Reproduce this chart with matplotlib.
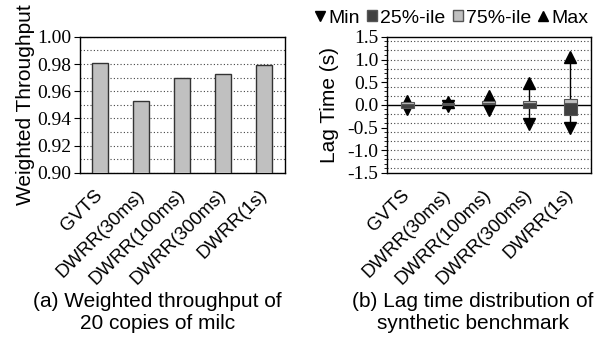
import matplotlib.pyplot as plt
import numpy as np
from matplotlib.lines import Line2D
from matplotlib.patches import Patch
from matplotlib.ticker import MultipleLocator

categories = ['GVTS', 'DWRR(30ms)', 'DWRR(100ms)', 'DWRR(300ms)', 'DWRR(1s)']
throughput = [0.981, 0.953, 0.970, 0.973, 0.979]

lag_min = [-0.09, -0.03, -0.12, -0.43, -0.52]
lag_p25 = [-0.07, 0.00, 0.01, -0.07, -0.22]
lag_med = [0.01, 0.02, 0.04, 0.03, 0.05]
lag_p75 = [0.07, 0.03, 0.08, 0.09, 0.12]
lag_max = [0.09, 0.06, 0.20, 0.48, 1.05]

tp_ticks = [0.90, 0.92, 0.94, 0.96, 0.98, 1.00]
lag_ticks = [-1.5, -1.0, -0.5, 0.0, 0.5, 1.0, 1.5]

plt.rcParams['font.family'] = ['Liberation Sans', 'DejaVu Sans']
serif = 'Liberation Serif'
dots = (0, (1, 2))

fig = plt.figure(figsize=(5.96, 3.41), dpi=100)
ax1 = fig.add_axes([0.134, 0.493, 0.344, 0.399])
ax2 = fig.add_axes([0.649, 0.493, 0.342, 0.399])
x = np.arange(len(categories))

# (a) weighted throughput
ax1.bar(x, throughput, width=0.39, color='#c0c0c0', edgecolor='#333333',
        linewidth=1.0, zorder=3)
ax1.set_ylim(0.90, 1.00)
ax1.set_yticks(tp_ticks, labels=['%.2f' % t for t in tp_ticks],
               fontfamily=serif, fontsize=14)
ax1.yaxis.set_minor_locator(MultipleLocator(0.01))
ax1.grid(axis='y', which='both', linestyle=dots, color='#444444',
         linewidth=0.8, zorder=0)
ax1.tick_params(axis='y', which='major', direction='out', length=4, pad=2)
ax1.tick_params(axis='y', which='minor', length=0)
ax1.set_ylabel('Weighted Throughput', fontsize=15, labelpad=2)

# (b) lag time distribution
ax2.axhline(0, color='black', linewidth=1.0, zorder=2)
ax2.vlines(x, lag_min, lag_max, color='black', linewidth=1.0, zorder=3)
ax2.plot(x, lag_min, linestyle='none', marker='v', color='black',
         markersize=8.5, zorder=4)
ax2.plot(x, lag_max, linestyle='none', marker='^', color='black',
         markersize=8.5, zorder=4)
ax2.bar(x, np.array(lag_med) - np.array(lag_p25), bottom=lag_p25, width=0.31,
        color='#404040', edgecolor='#555555', linewidth=0.8, zorder=5)
ax2.bar(x, np.array(lag_p75) - np.array(lag_med), bottom=lag_med, width=0.31,
        color='#c0c0c0', edgecolor='#555555', linewidth=0.8, zorder=5)
ax2.set_ylim(-1.5, 1.5)
ax2.set_yticks(lag_ticks, labels=['%.1f' % t for t in lag_ticks],
               fontfamily=serif, fontsize=14)
ax2.yaxis.set_minor_locator(MultipleLocator(0.1))
for g in np.arange(-1.4, 1.41, 0.2):
    if abs(g) > 1e-6:
        ax2.axhline(g, linestyle=dots, color='#444444', linewidth=0.8, zorder=0)
ax2.tick_params(axis='y', which='major', direction='out', length=4, pad=2)
ax2.tick_params(axis='y', which='minor', direction='out', length=2)
ax2.set_ylabel('Lag Time (s)', fontsize=15, labelpad=6)

for ax in (ax1, ax2):
    ax.set_xlim(-0.5, len(categories) - 0.5)
    ax.set_xticks(x)
    ax.set_xticklabels(categories, rotation=45, ha='right', va='center',
                       rotation_mode='anchor', fontsize=13.5)
    ax.tick_params(axis='x', length=0, pad=14)
    for sp in ax.spines.values():
        sp.set_linewidth(1.0)

handles = [
    Line2D([], [], linestyle='none', marker='v', color='black', markersize=6.5),
    Patch(facecolor='#404040', edgecolor='#555555'),
    Patch(facecolor='#c0c0c0', edgecolor='#555555'),
    Line2D([], [], linestyle='none', marker='^', color='black', markersize=6.5),
]
fig.legend(handles, ['Min', '25%-ile', '75%-ile', 'Max'], ncol=4,
           loc='center', bbox_to_anchor=(0.758, 0.947), frameon=False,
           fontsize=14, handlelength=0.5, handleheight=0.5,
           handletextpad=0.15, columnspacing=0.4, borderaxespad=0)

fig.text(0.264, 0.085, '(a) Weighted throughput of\n20 copies of milc',
         ha='center', va='center', fontsize=15, linespacing=1.2)
fig.text(0.793, 0.085, '(b) Lag time distribution of\nsynthetic benchmark',
         ha='center', va='center', fontsize=15, linespacing=1.2)

fig.savefig('out.png', dpi=100)
